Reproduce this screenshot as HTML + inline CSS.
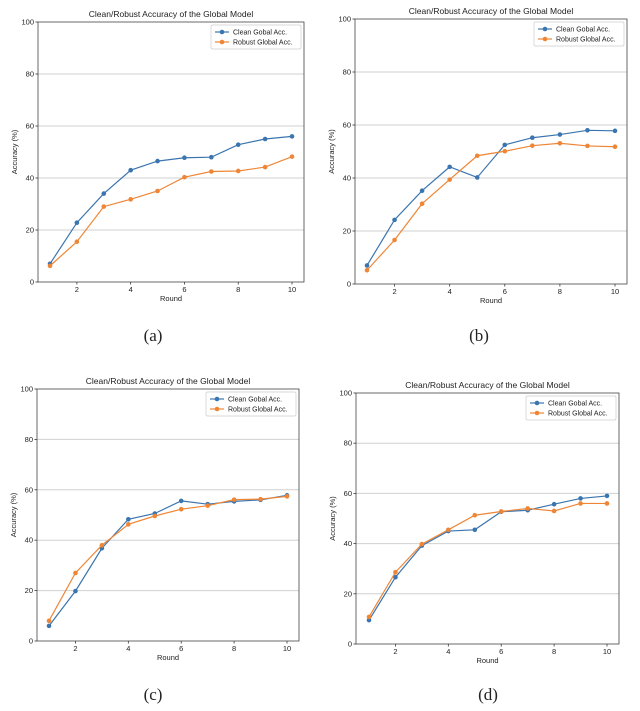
<!DOCTYPE html>
<html><head><meta charset="utf-8"><style>
body{margin:0;background:#fff;width:640px;height:706px;overflow:hidden;font-family:"Liberation Sans",sans-serif}
svg text{font-family:"Liberation Sans",sans-serif;fill:#222}
</style></head><body>
<svg id="s" width="640" height="706"></svg>
<script>
const rounds=[1,2,3,4,5,6,7,8,9,10];
const yTicks=[0,20,40,60,80,100];
const xTicks=[2,4,6,8,10];
const cleanA=[7,22.8,34,43,46.5,47.8,48,52.8,55,56];
const robustA=[6.2,15.5,29,31.8,35,40.3,42.5,42.7,44.2,48.2];
const cleanB=[7,24.2,35.2,44.2,40.2,52.5,55.2,56.4,58,57.8];
const robustB=[5.2,16.6,30.3,39.4,48.4,50.1,52.2,53.1,52.1,51.8];
const cleanC=[6,19.8,36.8,48.3,50.6,55.6,54.3,55.4,56,57.8];
const robustC=[8,27,38,46.3,49.6,52.3,53.7,56.1,56.3,57.4];
const cleanD=[9.5,26.6,39.2,45,45.5,52.7,53.3,55.7,58,59];
const robustD=[10.8,28.6,39.8,45.5,51.3,52.8,54,53,56,56];
const panels=[
 {id:'a',L:38,R:304,T:22,B:282,x1:50,x10:292,cap:[153,341],clean:cleanA,robust:robustA},
 {id:'b',L:355,R:627,T:19,B:284,x1:367,x10:615,cap:[479,341],clean:cleanB,robust:robustB},
 {id:'c',L:37,R:299,T:389,B:641,x1:49,x10:287,cap:[153,700],clean:cleanC,robust:robustC},
 {id:'d',L:356,R:619,T:393,B:644,x1:369,x10:607,cap:[488,700],clean:cleanD,robust:robustD}
];
const NS='http://www.w3.org/2000/svg';
const s=document.getElementById('s');
function mk(t,a,p){const e=document.createElementNS(NS,t);for(const k in a)e.setAttribute(k,a[k]);(p||s).appendChild(e);return e;}
panels.forEach(P=>{
 const g=mk('g',{});
 
 
 const xs=v=>P.x1+(v-1)*(P.x10-P.x1)/9;
 const ys=v=>P.B-(v/100)*(P.B-P.T);
 yTicks.forEach(t=>{
  if(t>0&&t<100){const l=mk('line',{x1:P.L,x2:P.R,y1:ys(t),y2:ys(t),stroke:'#d0d0d0','stroke-width':1},g);
   }
  const tx=mk('text',{x:P.L-4,y:ys(t)+2.5,'font-size':7.5,'text-anchor':'end'},g);tx.textContent=t;
  
  mk('line',{x1:P.L-2.5,x2:P.L,y1:ys(t),y2:ys(t),stroke:'#333','stroke-width':0.8},g);
 });
 xTicks.forEach(t=>{
  const tx=mk('text',{x:xs(t),y:P.B+10,'font-size':7.5,'text-anchor':'middle'},g);tx.textContent=t;
  
  mk('line',{x1:xs(t),x2:xs(t),y1:P.B,y2:P.B+2.5,stroke:'#333','stroke-width':0.8},g);
 });
 const fr=mk('rect',{x:P.L,y:P.T,width:P.R-P.L,height:P.B-P.T,fill:'none',stroke:'#444','stroke-width':0.8},g);
 
 const ti=mk('text',{x:(P.L+P.R)/2,y:P.T-5,'font-size':8.5,'text-anchor':'middle'},g);ti.textContent='Clean/Robust Accuracy of the Global Model';
 
 const xl=mk('text',{x:(P.L+P.R)/2,y:P.B+19,'font-size':7.5,'text-anchor':'middle'},g);xl.textContent='Round';
 
 const cy=(P.T+P.B)/2,cx=P.L-21;
 const yl=mk('text',{x:cx,y:cy,'font-size':7.5,'text-anchor':'middle',transform:`rotate(-90 ${cx} ${cy})`},g);yl.textContent='Accuracy (%)';
 
 [['clean',P.clean,'#3b75af'],['robust',P.robust,'#ef8636']].forEach(([nm,vals,c])=>{
  const pl=mk('polyline',{points:vals.map((v,i)=>xs(rounds[i])+','+ys(v)).join(' '),fill:'none',stroke:c,'stroke-width':1.2},g);
  
  vals.forEach((v,i)=>{const m=mk('circle',{cx:xs(rounds[i]),cy:ys(v),r:2.3,fill:c},g);
   });
 });
 const lw=90,lh=24,lx=P.R-lw-3,ly=P.T+3;
 const lg=mk('g',{},g);
 
 mk('rect',{x:lx,y:ly,width:lw,height:lh,fill:'#fff',stroke:'#ccc','stroke-width':0.7,rx:1.5},lg);
 [['Clean Gobal Acc.','#3b75af'],['Robust Global Acc.','#ef8636']].forEach(([t,c],i)=>{
  const yy=ly+7+i*10;
  mk('line',{x1:lx+4,x2:lx+18,y1:yy,y2:yy,stroke:c,'stroke-width':1.2},lg);
  mk('circle',{cx:lx+11,cy:yy,r:2.3,fill:c},lg);
  const te=mk('text',{x:lx+22,y:yy+2.5,'font-size':7},lg);te.textContent=t;
  
 });
 const cp=mk('text',{x:P.cap[0],y:P.cap[1],'font-size':17,'text-anchor':'middle'},g);
 cp.setAttribute('style','font-family:"Liberation Serif",serif');
 cp.textContent='('+P.id+')';
 
});
</script>
</body></html>
